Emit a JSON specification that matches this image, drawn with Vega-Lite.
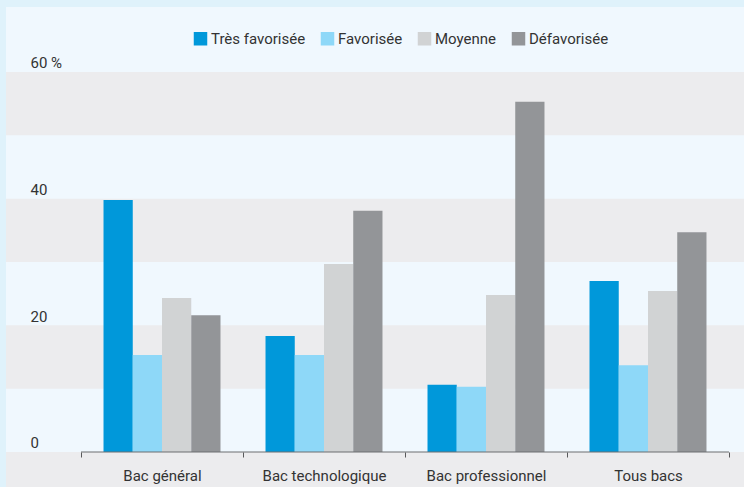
{
  "$schema": "https://vega.github.io/schema/vega-lite/v6.json",
  "autosize": {"type": "none"},
  "width": 738,
  "height": 480,
  "padding": {"left": 6, "top": 7, "right": 0, "bottom": 0},
  "background": "#dff2fb",
  "config": {
    "view": {"fill": "#f0f8fe", "stroke": null},
    "font": "Roboto",
    "text": {"font": "Roboto"},
    "axisY": {
      "title": null, "orient": "left", "offset": -24, "domain": false, "ticks": false, "grid": false, "zindex": 2,
      "labelOverlap": false, "labelFlush": false,
      "labelAlign": "left", "labelPadding": 0, "labelBaseline": "alphabetic", "labelOffset": -4,
      "labelFont": "Roboto", "labelFontSize": 15, "labelColor": "#333333"
    }
  },
  "datasets": {
    "bars": [
      {"cat": "Bac général", "groupe": "Très favorisée", "v": 39.8},
      {"cat": "Bac général", "groupe": "Favorisée", "v": 15.3},
      {"cat": "Bac général", "groupe": "Moyenne", "v": 24.3},
      {"cat": "Bac général", "groupe": "Défavorisée", "v": 21.6},
      {"cat": "Bac technologique", "groupe": "Très favorisée", "v": 18.3},
      {"cat": "Bac technologique", "groupe": "Favorisée", "v": 15.3},
      {"cat": "Bac technologique", "groupe": "Moyenne", "v": 29.7},
      {"cat": "Bac technologique", "groupe": "Défavorisée", "v": 38.1},
      {"cat": "Bac professionnel", "groupe": "Très favorisée", "v": 10.6},
      {"cat": "Bac professionnel", "groupe": "Favorisée", "v": 10.3},
      {"cat": "Bac professionnel", "groupe": "Moyenne", "v": 24.8},
      {"cat": "Bac professionnel", "groupe": "Défavorisée", "v": 55.3},
      {"cat": "Tous bacs", "groupe": "Très favorisée", "v": 27.0},
      {"cat": "Tous bacs", "groupe": "Favorisée", "v": 13.7},
      {"cat": "Tous bacs", "groupe": "Moyenne", "v": 25.4},
      {"cat": "Tous bacs", "groupe": "Défavorisée", "v": 34.7}
    ],
    "bands": [
      {"lo": 50, "hi": 60},
      {"lo": 30, "hi": 40},
      {"lo": 10, "hi": 20},
      {"lo": -5.53, "hi": 0}
    ],
    "axisline": [
      {"a": "Bac général", "b": "Tous bacs", "y": 0}
    ]
  },
  "layer": [
    {
      "data": {"name": "bands"},
      "mark": {"type": "rect", "color": "#ececee"},
      "encoding": {
        "y": {
          "field": "lo", "type": "quantitative",
          "scale": {"domain": [-5.53, 70.26], "nice": false, "zero": false},
          "axis": {
            "title": null, "values": [0, 10, 20, 30, 40, 50, 60], "labelOverlap": false,
            "labelExpr": "datum.value == 60 ? '60 %' : (datum.value == 0 ? '\u20070' : datum.label)"
          }
        },
        "y2": {"field": "hi"}
      }
    },
    {
      "data": {"name": "bars"},
      "mark": {"type": "bar"},
      "encoding": {
        "x": {
          "field": "cat", "type": "nominal", "sort": null,
          "scale": {"domain": ["Bac général", "Bac technologique", "Bac professionnel", "Tous bacs"], "paddingInner": 0, "paddingOuter": 0.2778, "align": 0.8333},
          "axis": {
            "orient": "bottom", "offset": -35, "title": null, "domain": false, "zindex": 2,
            "tickBand": "extent", "tickSize": 5, "tickColor": "#58595b", "tickWidth": 1,
            "labelAngle": 0, "labelFont": "Roboto", "labelFontSize": 15, "labelColor": "#333333",
            "labelPadding": 11, "grid": false
          }
        },
        "xOffset": {
          "field": "groupe", "type": "nominal",
          "scale": {"domain": ["Très favorisée", "Favorisée", "Moyenne", "Défavorisée"], "paddingInner": 0, "paddingOuter": 0.77}
        },
        "y": {
          "field": "v", "type": "quantitative",
          "axis": {
            "title": null, "values": [0, 10, 20, 30, 40, 50, 60], "labelOverlap": false,
            "labelExpr": "datum.value == 60 ? '60 %' : (datum.value == 0 ? '\u20070' : datum.label)"
          }
        },
        "color": {
          "field": "groupe", "type": "nominal",
          "scale": {"domain": ["Très favorisée", "Favorisée", "Moyenne", "Défavorisée"], "range": ["#0098da", "#8ed8f8", "#d1d3d4", "#939598"]},
          "legend": {
            "title": null, "orient": "none", "direction": "horizontal", "legendX": 187, "legendY": 24,
            "symbolType": "square", "symbolSize": 182, "symbolStrokeWidth": 0, "symbolOpacity": 1,
            "labelFont": "Roboto", "labelFontSize": 15, "labelColor": "#333333",
            "labelOffset": 3, "columnPadding": 14
          }
        }
      }
    },
    {
      "data": {"name": "axisline"},
      "mark": {"type": "rule", "color": "#6d6e71", "strokeWidth": 1.2},
      "encoding": {
        "x": {"field": "a", "type": "nominal", "bandPosition": 0},
        "x2": {"field": "b", "bandPosition": 1},
        "y": {
          "field": "y", "type": "quantitative",
          "axis": {
            "title": null, "values": [0, 10, 20, 30, 40, 50, 60], "labelOverlap": false,
            "labelExpr": "datum.value == 60 ? '60 %' : (datum.value == 0 ? '\u20070' : datum.label)"
          }
        }
      }
    }
  ]
}
